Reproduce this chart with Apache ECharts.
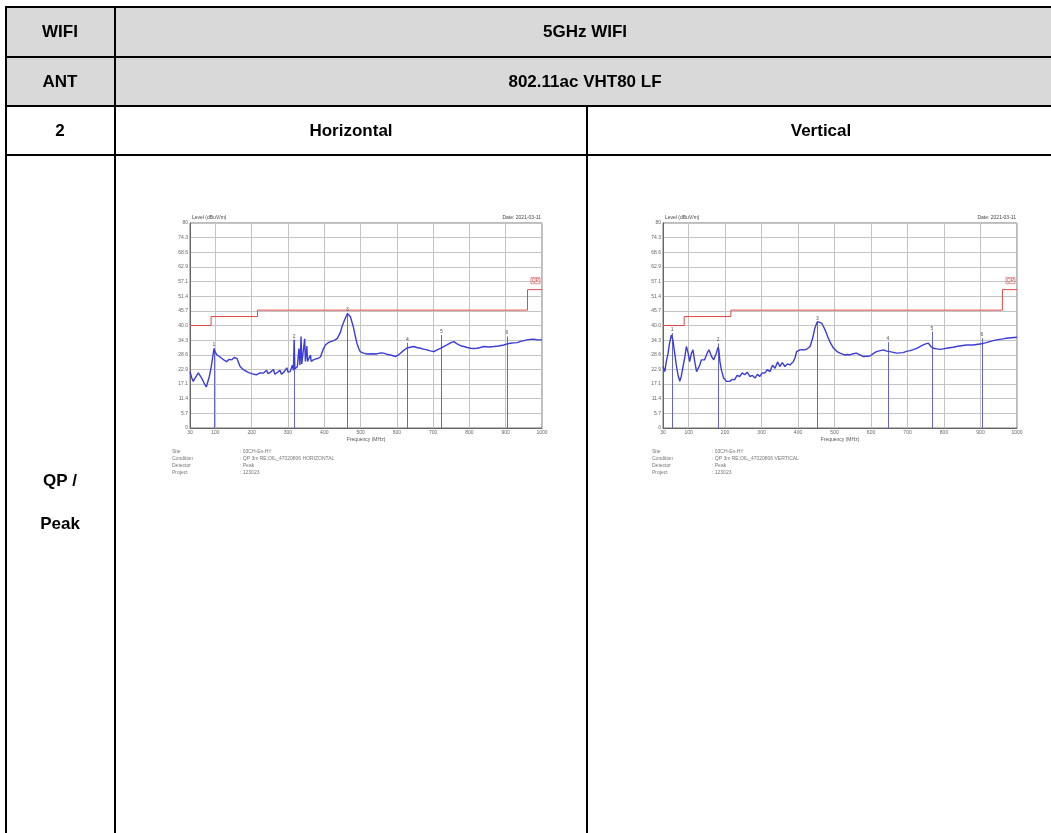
<!DOCTYPE html>
<html><head><meta charset="utf-8">
<script src="https://cdn.jsdelivr.net/npm/echarts@6/dist/echarts.min.js"></script>
<style>html,body{margin:0;padding:0;background:#fff}#c{width:1051px;height:833px}</style>
</head><body><div id="c"></div>
<script>
// ---------- data ----------
const xTicks = [30,100,200,300,400,500,600,700,800,900,1000];
const yTickLabels = ['0','5.7','11.4','17.1','22.9','28.6','34.3','40.0','45.7','51.4','57.1','62.9','68.6','74.3','80'];
const limitFreq  = [30, 88, 88, 216, 216, 960, 960, 1000];
const limitLevel = [40, 40, 43.5, 43.5, 46, 46, 54, 54];

const hFreq = [30,35,39,44,48,53,58,62,65,71,75,78,83,88,90,93,96,99,104,110,117,124,131,138,145,152,159,164,168,175,182,189,196,205,214,223,232,241,245,251,260,264,269,278,282,288,297,300,306,312,315,317,319,326,330,333,336,338,342,346,348,352,354,356,362,364,370,377,384,390,393,398,403,410,417,424,430,436,440,445,449,454,458,464,468,472,477,481,486,490,495,499,508,518,530,545,555,563,572,582,590,596,603,610,618,628,637,646,655,665,674,683,692,702,711,720,729,738,748,757,764,771,778,785,794,803,812,821,830,840,853,867,880,895,904,913,922,932,941,950,959,968,977,987,1000];
const hLevel = [22.0,19.5,18.2,19.5,20.1,21.5,21.4,19.5,18.8,16.9,16.0,16.2,20.0,23.5,25.3,28.0,31.0,29.8,28.5,28.0,27.2,26.5,25.9,26.8,26.6,27.5,27.2,25.5,24.0,23.0,22.4,21.8,21.4,21.0,20.8,21.5,21.4,22.5,21.2,21.7,22.8,21.0,20.8,22.5,21.0,21.7,23.5,21.8,22.0,24.5,22.5,34.4,23.0,24.0,31.0,24.6,35.7,25.0,25.3,34.8,26.0,32.0,26.0,25.9,28.5,26.0,26.6,27.0,27.2,27.8,29.2,31.0,32.4,33.2,33.7,34.0,34.4,35.0,35.7,37.5,39.6,41.5,42.8,44.7,44.0,43.4,41.0,38.9,35.5,33.1,31.0,29.8,29.2,28.9,29.0,28.9,29.3,29.2,28.8,28.5,28.2,27.9,28.4,29.2,30.2,31.2,31.5,31.8,31.4,31.1,30.8,30.5,30.1,29.8,30.5,31.1,31.8,32.4,33.2,33.7,33.0,32.4,32.0,31.8,31.4,31.1,31.0,31.1,31.4,31.8,31.6,31.8,32.0,32.4,32.8,33.1,33.2,33.3,33.8,34.1,34.4,34.6,34.7,34.4,34.4];
const hMarkerFreq  = [96, 317, 464, 629, 723, 903];
const hMarkerLevel = [31.0, 34.4, 44.7, 33.3, 36.3, 35.7];

const vFreq = [30,35,39,44,48,53,55,57,62,67,71,76,80,85,90,94,99,103,108,112,117,122,126,131,135,140,144,151,156,163,169,176,181,183,186,190,196,204,213,220,226,233,240,247,254,261,268,275,282,289,295,302,309,316,323,330,337,344,350,357,364,371,378,387,392,396,405,412,419,426,433,440,446,450,453,458,465,470,474,479,483,488,492,497,501,508,515,522,529,536,542,551,560,570,579,588,597,606,615,625,634,643,652,661,670,679,688,697,707,716,725,734,743,750,757,764,771,780,789,798,807,816,825,834,843,852,862,871,880,889,898,907,916,925,935,944,953,962,971,985,1000];
const vLevel = [24.0,22.0,25.9,29.2,33.1,36.3,37.0,34.4,29.2,24.0,20.8,18.2,20.1,24.0,27.9,31.8,29.2,25.9,29.2,30.5,25.9,22.0,21.4,24.6,26.6,25.9,26.6,29.2,30.5,27.9,26.6,29.2,31.5,30.5,25.9,22.7,19.5,18.2,18.2,19.0,18.8,20.5,20.1,21.5,20.8,21.8,20.1,20.5,19.5,21.0,20.1,21.5,21.4,22.8,22.0,24.5,23.3,25.8,24.0,25.5,24.0,25.0,24.6,25.9,27.5,29.8,30.5,30.6,30.5,31.0,31.8,35.0,38.9,40.5,41.5,42.2,40.9,39.5,38.3,36.5,35.0,33.5,32.4,31.2,30.5,29.7,29.2,28.8,28.5,28.7,28.5,29.0,29.2,28.5,27.9,28.0,28.1,29.0,29.8,30.2,30.5,30.0,29.8,29.5,29.2,29.3,29.4,29.9,30.2,30.6,31.1,31.8,32.4,32.8,33.1,31.8,31.1,30.9,30.7,30.9,31.1,31.3,31.5,31.8,32.0,32.2,32.4,32.4,32.4,32.6,32.8,33.0,33.3,33.7,34.1,34.4,34.6,34.8,35.0,35.2,35.4];
const vMarkerFreq  = [55, 181, 453, 646, 767, 904];
const vMarkerLevel = [37.0, 33.0, 41.5, 33.5, 37.6, 35.0];

const tableHeader = ['WIFI', '5GHz WIFI', 'ANT', '802.11ac VHT80 LF', '2', 'Horizontal', 'Vertical'];
const rowLabel = ['QP /', 'Peak'];
const infoKeys = ['Site', 'Condition', 'Detector', 'Project'];
const infoH = [': 03CH-Es-HY', ': QP 3m RE;OIL_47020806 HORIZONTAL', ': Peak', ': 123023'];
const infoV = [': 03CH-Es-HY', ': QP 3m RE;OIL_47020806 VERTICAL', ': Peak', ': 123023'];
const dateText = 'Date: 2021-03-11';
const yName = 'Level (dBuV/m)';
const xName = 'Frequency (MHz)';

// ---------- build ----------
const zip = (a, b) => a.map((v, i) => [v, b[i]]);
const chart = echarts.init(document.getElementById('c'), null, {renderer: 'canvas'});
const F = 'Liberation Sans, Arial, sans-serif';
const tiny = {fontFamily: F, fontSize: 5, color: '#666'};
const MARK = '#6464d2';

const grids = [
  {left: 190, top: 223, width: 352, height: 205},
  {left: 663, top: 223, width: 354, height: 205}
];

function xAx(i) {
  return {
    gridIndex: i, type: 'value', min: 30, max: 1000,
    name: xName, nameLocation: 'middle', nameGap: 9, nameTextStyle: Object.assign({}, tiny, {color: '#555'}),
    axisLine: {show: true, lineStyle: {color: '#666', width: 1}},
    axisTick: {show: false, customValues: xTicks},
    axisLabel: Object.assign({customValues: xTicks, margin: 2, formatter: v => String(v)}, tiny),
    splitLine: {show: true, lineStyle: {color: '#c4c4c4', width: 1}}
  };
}
function yAx(i) {
  return {
    gridIndex: i, type: 'value', min: 0, max: 80, interval: 80 / 14,
    axisLine: {show: true, lineStyle: {color: '#666', width: 1}},
    axisTick: {show: false},
    axisLabel: Object.assign({margin: 2, formatter: (v, idx) => yTickLabels[idx] !== undefined ? yTickLabels[idx] : v.toFixed(1)}, tiny),
    splitLine: {show: true, lineStyle: {color: '#c4c4c4', width: 1}}
  };
}

function traceSeries(i, f, l, mf, ml) {
  return {
    type: 'line', xAxisIndex: i, yAxisIndex: i, data: zip(f, l),
    symbol: 'none', smooth: false, z: 5,
    lineStyle: {color: '#3c3cd8', width: 1.4},
    markLine: {
      silent: true, symbol: 'none', animation: false,
      lineStyle: {color: MARK, width: 1, type: 'solid'},
      label: {show: true, position: 'end', distance: 1, fontFamily: F, fontSize: 5, color: '#555',
              formatter: p => String(p.dataIndex + 1)},
      data: mf.map((m, k) => [{coord: [m, 0], lineStyle: {color: MARK}}, {coord: [m, ml[k]]}])
    }
  };
}
function limitSeries(i) {
  return {
    type: 'line', xAxisIndex: i, yAxisIndex: i, data: zip(limitFreq, limitLevel),
    symbol: 'none', z: 4, lineStyle: {color: '#e04848', width: 1},
    markPoint: {
      symbol: 'rect', symbolSize: [9, 6], symbolOffset: [0, 0],
      itemStyle: {color: 'rgba(0,0,0,0)', borderColor: '#e04848', borderWidth: 0.6},
      label: {show: true, formatter: 'QP', fontFamily: F, fontSize: 5, color: '#e04848'},
      data: [{coord: [982, 57.5]}]
    }
  };
}

// table graphics
const g = [];
const BW = 2;
g.push({type: 'rect', shape: {x: 6, y: 7, width: 1060, height: 99}, style: {fill: '#d9d9d9'}, z: 0});
const hl = (y, x1, x2) => g.push({type: 'line', shape: {x1, y1: y, x2, y2: y}, style: {stroke: '#000', lineWidth: BW}, z: 1});
const vl = (x, y1, y2) => g.push({type: 'line', shape: {x1: x, y1, x2: x, y2}, style: {stroke: '#000', lineWidth: BW}, z: 1});
hl(7, 5, 1060); hl(57, 5, 1060); hl(106, 5, 1060); hl(155, 5, 1060);
vl(6, 6, 840); vl(115, 6, 840); vl(587, 106, 840);
const txt = (s, x, y, opt) => g.push({type: 'text', x, y, z: 2, style: Object.assign({text: s, fontFamily: F, fontWeight: 'bold', fontSize: 17, fill: '#000', textAlign: 'center', textVerticalAlign: 'middle'}, opt || {})});
txt(tableHeader[0], 60, 32); txt(tableHeader[1], 585, 32);
txt(tableHeader[2], 60, 82); txt(tableHeader[3], 585, 82);
txt(tableHeader[4], 60, 131); txt(tableHeader[5], 351, 131); txt(tableHeader[6], 821, 131);
txt(rowLabel[0], 60, 481); txt(rowLabel[1], 60, 524);

// chart captions
const small = (s, x, y, align, col) => g.push({type: 'text', x, y, z: 3, style: {text: s, fontFamily: F, fontSize: 5, fill: col || '#555', textAlign: align || 'left', textVerticalAlign: 'middle'}});
[[grids[0], infoH, 172, 240], [grids[1], infoV, 652, 712]].forEach(([gr, info, kx, vx]) => {
  small(yName, gr.left + 2, gr.top - 5, 'left', '#444');
  small(dateText, gr.left + gr.width - 1, gr.top - 5, 'right', '#444');
  infoKeys.forEach((k, i) => { small(k, kx, 452 + i * 6.8, 'left', '#777'); small(info[i], vx, 452 + i * 6.8, 'left', '#777'); });
});

chart.setOption({
  animation: false,
  backgroundColor: '#fff',
  grid: grids.map(gr => Object.assign({show: true, borderColor: '#777', borderWidth: 1, backgroundColor: '#fff', containLabel: false}, gr)),
  xAxis: [xAx(0), xAx(1)],
  yAxis: [yAx(0), yAx(1)],
  series: [
    limitSeries(0), traceSeries(0, hFreq, hLevel, hMarkerFreq, hMarkerLevel),
    limitSeries(1), traceSeries(1, vFreq, vLevel, vMarkerFreq, vMarkerLevel)
  ],
  graphic: g
});
</script></body></html>
